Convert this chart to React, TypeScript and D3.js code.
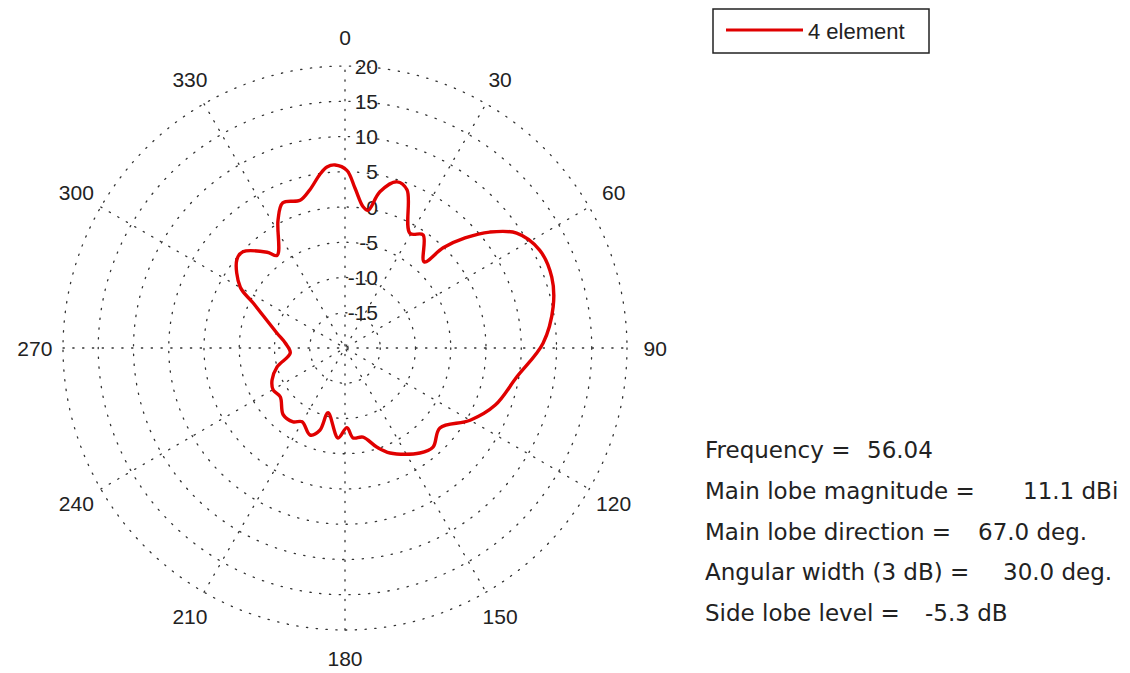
import React, { useEffect, useRef } from 'react';
import * as d3 from 'd3';

// pattern samples: compass angle (deg, clockwise from top) and gain (dB)
const angles = [
  0.6, 3.6, 7.3, 9.5, 12.6, 17.4, 21.4, 29.5, 34.6, 42.6, 44.4, 47.5, 51.3, 56.2,
  63.3, 71.1, 78.8, 88.6, 99.6, 110.8, 120, 130.1, 138.4, 144.5, 156.8, 162.1,
  168.6, 174.9, 178.6, 184.4, 194.7, 197, 201.9, 210.2, 215.1, 222.8, 233, 239.7,
  246.3, 254.4, 264.8, 274.8, 282.4, 296.1, 300.2, 309.2, 313.3, 320.9, 323.8,
  332.4, 336.8, 343.1, 347.5, 351.8, 354.3, 356.9,
];
const gainDb = [
  5.2, 2.7, 0.2, -0.2, 2.7, 4.7, 4.1, -1.3, -0.5, -3.4, -0.1, 3.1, 6.3, 9.3,
  10.9, 11.0, 10.1, 8.1, 4.7, 2.8, 0.5, -2.4, -1.2, -1.7, -3.8, -5.2,
  -7.1, -7.2, -8.7, -7.2, -10.5, -7.8, -6.7, -7.9, -7.2, -7.1, -8.5, -8.2,
  -8.7, -10.0, -12.2, -11.5, -10.1, -5.5, -2.8, -0.2, -0.1, -2.5, -3.7,
  0.5, 2.4, 1.9, 3.0, 4.9, 5.8, 6.0,
];

const ringTicks = [-15, -10, -5, 0, 5, 10, 15, 20];
const spokeAngles = [0, 30, 60, 90, 120, 150, 180, 210, 240, 270, 300, 330];
const seriesName = '4 element';
const infoLabels = [
  'Frequency =',
  'Main lobe magnitude =',
  'Main lobe direction =',
  'Angular width (3 dB) =',
  'Side lobe level =',
];
const infoValues = ['56.04', '11.1 dBi', '67.0 deg.', '30.0 deg.', '-5.3 dB'];

const App: React.FC = () => {
  const chartRef = useRef<SVGSVGElement>(null);

  useEffect(() => {
    const svg = d3.select(chartRef.current);
    svg.selectAll('*').remove();

    const width = 1130;
    const height = 673;
    const cx = 345;
    const cy = 348;
    const rMax = 282;
    const font = 'Liberation Sans, Arial, sans-serif';

    svg.attr('width', width).attr('height', height);
    svg.append('rect').attr('width', width).attr('height', height).attr('fill', '#fff');

    const r = d3.scaleLinear().domain([-20, 20]).range([0, rMax]);
    const g = svg.append('g').attr('transform', `translate(${cx},${cy})`);

    const dotted = (sel) =>
      sel
        .attr('fill', 'none')
        .attr('stroke', '#333')
        .attr('stroke-width', 1.3)
        .attr('stroke-dasharray', '1.3,8.5')
        .attr('stroke-linecap', 'round');

    // rings
    g.selectAll('circle.ring')
      .data(ringTicks)
      .join('circle')
      .attr('class', 'ring')
      .attr('r', (d) => r(d))
      .call(dotted);

    // spokes
    const rad = (a) => (a * Math.PI) / 180;
    g.selectAll('line.spoke')
      .data(spokeAngles.slice(0, 6))
      .join('line')
      .attr('class', 'spoke')
      .attr('x1', (a) => -rMax * Math.sin(rad(a)))
      .attr('y1', (a) => rMax * Math.cos(rad(a)))
      .attr('x2', (a) => rMax * Math.sin(rad(a)))
      .attr('y2', (a) => -rMax * Math.cos(rad(a)))
      .call(dotted);

    // angle labels
    g.selectAll('text.ang')
      .data(spokeAngles)
      .join('text')
      .attr('class', 'ang')
      .attr('x', (a) => rMax * 1.1 * Math.sin(rad(a)))
      .attr('y', (a) => -rMax * 1.1 * Math.cos(rad(a)))
      .attr('text-anchor', 'middle')
      .attr('dominant-baseline', 'central')
      .attr('font-family', font)
      .attr('font-size', 21)
      .attr('fill', '#222')
      .text((a) => a);

    // ring labels
    g.selectAll('text.rl')
      .data(ringTicks)
      .join('text')
      .attr('class', 'rl')
      .attr('x', 33)
      .attr('y', (d) => -r(d))
      .attr('text-anchor', 'end')
      .attr('dominant-baseline', 'central')
      .attr('font-family', font)
      .attr('font-size', 21)
      .attr('fill', '#222')
      .text((d) => d);

    // pattern
    const pts = angles.map((a, i) => [a, gainDb[i]]);
    const line = d3
      .lineRadial()
      .angle((d) => rad(d[0]))
      .radius((d) => r(d[1]))
      .curve(d3.curveCatmullRomClosed.alpha(0.5));

    g.append('path')
      .datum(pts)
      .attr('d', line)
      .attr('fill', 'none')
      .attr('stroke', '#e00000')
      .attr('stroke-width', 3.4)
      .attr('stroke-linejoin', 'round');

    // legend
    const lg = svg.append('g');
    lg.append('rect')
      .attr('x', 713)
      .attr('y', 9)
      .attr('width', 216)
      .attr('height', 44)
      .attr('fill', '#fff')
      .attr('stroke', '#222')
      .attr('stroke-width', 1.5);
    lg.append('line')
      .attr('x1', 726)
      .attr('x2', 803)
      .attr('y1', 30)
      .attr('y2', 30)
      .attr('stroke', '#e00000')
      .attr('stroke-width', 3);
    lg.append('text')
      .attr('x', 808)
      .attr('y', 31)
      .attr('dominant-baseline', 'central')
      .attr('font-family', font)
      .attr('font-size', 22)
      .attr('fill', '#222')
      .text(seriesName);

    // info block
    const valueX = [867, 1023, 978, 1003, 925];
    const info = svg
      .append('g')
      .attr('font-family', 'DejaVu Sans, Verdana, sans-serif')
      .attr('font-size', 23)
      .attr('fill', '#222');
    infoLabels.forEach((lab, i) => {
      const y = 458 + i * 40.8;
      info.append('text').attr('x', 705).attr('y', y).text(lab);
      info.append('text').attr('x', valueX[i]).attr('y', y).text(infoValues[i]);
    });
  }, []);

  return (
    <div style={{ position: 'absolute', left: 0, top: 0 }}>
      <svg ref={chartRef}></svg>
    </div>
  );
};

export default App;
